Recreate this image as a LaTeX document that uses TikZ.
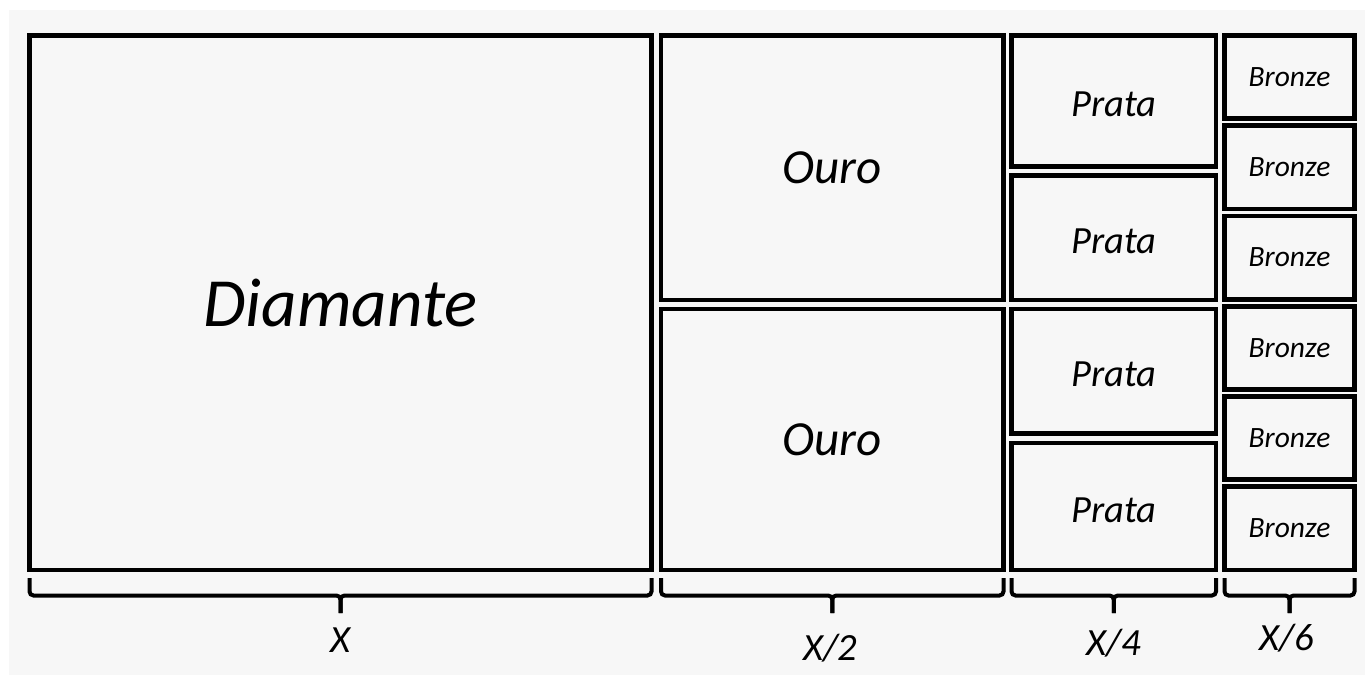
\documentclass[tikz,border=0pt]{standalone}
\usepackage{fontspec}
\setmainfont{Carlito}
\definecolor{paper}{HTML}{F7F7F7}

\begin{document}
\begin{tikzpicture}[x = 1pt, y = -1pt]
\tikzstyle{BoxStyle}=[draw,
                      line width = 4.8pt,
                      outer sep = 0pt,
                      inner sep = 0pt]
\tikzstyle{BraceStyle}=[line width = 4pt, rounded corners = 4pt]
\tikzstyle{DimStyle}=[anchor = base, inner sep = 0pt,
                      font = \itshape\fontsize{38.5}{42}\selectfont]
\useasboundingbox (0,0) rectangle (1365,675);
\fill[white] (0,0) rectangle (1365,675);
\fill[paper] (9,10) rectangle (1365,675);
% boxes
\node[BoxStyle, minimum width = 622pt, minimum height = 534.5pt, font = \itshape\fontsize{69}{74}\selectfont] (diamante) at (340.5,302.75) {Diamante};
\node[BoxStyle, minimum width = 342.5pt, minimum height = 264.5pt, font = \itshape\fontsize{49}{54}\selectfont] (ouro1) at (832.25,167.75) {Ouro};
\node[BoxStyle, minimum width = 342.5pt, minimum height = 261pt, font = \itshape\fontsize{49}{54}\selectfont] (ouro2) at (832.25,439.5) {Ouro};
\node[BoxStyle, minimum width = 204.5pt, minimum height = 131pt, text height = 31pt, text depth = 0pt, font = \itshape\fontsize{38.5}{42}\selectfont] (prata1) at (1113.75,101) {Prata};
\node[BoxStyle, minimum width = 204.5pt, minimum height = 124.5pt, text height = 31pt, text depth = 0pt, font = \itshape\fontsize{38.5}{42}\selectfont] (prata2) at (1113.75,237.75) {Prata};
\node[BoxStyle, minimum width = 204.5pt, minimum height = 124.5pt, text height = 31pt, text depth = 0pt, font = \itshape\fontsize{38.5}{42}\selectfont] (prata3) at (1113.75,371.25) {Prata};
\node[BoxStyle, minimum width = 204.5pt, minimum height = 127pt, text height = 31pt, text depth = 0pt, font = \itshape\fontsize{38.5}{42}\selectfont] (prata4) at (1113.75,506.5) {Prata};
\node[BoxStyle, minimum width = 130pt, minimum height = 83.25pt, font = \itshape\fontsize{29.5}{32}\selectfont] (bronze1) at (1289.5,77.125) {Bronze};
\node[BoxStyle, minimum width = 130pt, minimum height = 83.25pt, font = \itshape\fontsize{29.5}{32}\selectfont] (bronze2) at (1289.5,167.375) {Bronze};
\node[BoxStyle, minimum width = 130pt, minimum height = 83.25pt, font = \itshape\fontsize{29.5}{32}\selectfont] (bronze3) at (1289.5,257.625) {Bronze};
\node[BoxStyle, minimum width = 130pt, minimum height = 83.25pt, font = \itshape\fontsize{29.5}{32}\selectfont] (bronze4) at (1289.5,347.875) {Bronze};
\node[BoxStyle, minimum width = 130pt, minimum height = 83.25pt, font = \itshape\fontsize{29.5}{32}\selectfont] (bronze5) at (1289.5,438.125) {Bronze};
\node[BoxStyle, minimum width = 130pt, minimum height = 83.25pt, font = \itshape\fontsize{29.5}{32}\selectfont] (bronze6) at (1289.5,528.375) {Bronze};
% braces
\draw[BraceStyle] ([yshift=-8pt]diamante.south west) |- ([yshift=-25.5pt]diamante.south) -- ([yshift=-43pt]diamante.south);
\draw[BraceStyle] ([yshift=-8pt]diamante.south east) |- ([yshift=-25.5pt]diamante.south) -- ([yshift=-43pt]diamante.south);
\draw[BraceStyle] ([yshift=-8pt]ouro2.south west) |- ([yshift=-25.5pt]ouro2.south) -- ([yshift=-43pt]ouro2.south);
\draw[BraceStyle] ([yshift=-8pt]ouro2.south east) |- ([yshift=-25.5pt]ouro2.south) -- ([yshift=-43pt]ouro2.south);
\draw[BraceStyle] ([yshift=-8pt]prata4.south west) |- ([yshift=-25.5pt]prata4.south) -- ([yshift=-43pt]prata4.south);
\draw[BraceStyle] ([yshift=-8pt]prata4.south east) |- ([yshift=-25.5pt]prata4.south) -- ([yshift=-43pt]prata4.south);
\draw[BraceStyle] ([yshift=-8pt]bronze6.south west) |- ([yshift=-25.5pt]bronze6.south) -- ([yshift=-43pt]bronze6.south);
\draw[BraceStyle] ([yshift=-8pt]bronze6.south east) |- ([yshift=-25.5pt]bronze6.south) -- ([yshift=-43pt]bronze6.south);
% widths
\node[DimStyle] (labx) at ([yshift=-82pt]diamante.south) {X};
\node[DimStyle] (labhalf) at ([xshift=-2pt, yshift=-90pt]ouro2.south) {X/2};
\node[DimStyle] (labquarter) at ([yshift=-85pt]prata4.south) {X/4};
\node[DimStyle] (labsixth) at ([xshift=-3pt, yshift=-80pt]bronze6.south) {X/6};
\end{tikzpicture}
\end{document}
